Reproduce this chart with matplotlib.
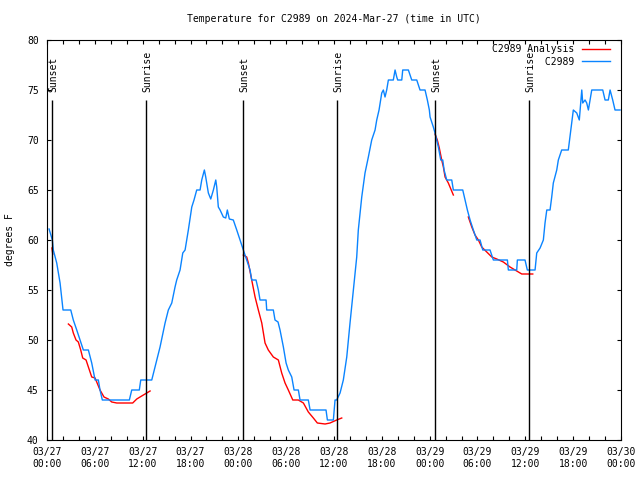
import numpy as np
import matplotlib.pyplot as plt
from matplotlib.ticker import MultipleLocator

plt.rcParams['font.family'] = ['DejaVu Sans Mono']
plt.rcParams['font.size'] = 7

# hours since 2024-03-27 00:00 UTC
obs_hours = [0.26, 0.67, 0.79, 1.22, 1.64, 1.97, 2.01, 2.98, 3.30, 3.73, 4.14, 4.56, 5.19, 5.61,
             6.03, 6.44, 6.65, 6.94, 10.33, 10.63, 11.58, 11.76, 13.14, 13.55, 14.18, 14.81,
             15.22, 15.65, 16.06, 16.27, 16.69, 17.03, 17.32, 17.73, 18.16, 18.44, 18.78, 19.20,
             19.41, 19.74, 19.91, 20.24, 20.54, 20.87, 21.17, 21.29, 21.49, 21.71, 22.12, 22.42,
             22.62, 22.87, 23.37, 23.80, 24.21, 24.63, 25.05, 25.47, 25.68, 26.22, 26.51, 26.72,
             27.48, 27.56, 28.39, 28.60, 28.98, 29.23, 29.65, 29.99, 30.27, 30.70, 30.99, 31.53,
             31.74, 32.78, 33.00, 35.00, 35.17, 35.92, 36.13, 36.34, 36.76, 37.17, 37.60, 38.01,
             38.43, 38.85, 39.05, 39.48, 39.89, 40.31, 40.73, 41.15, 41.36, 41.65, 41.99, 42.19,
             42.40, 42.61, 42.82, 43.44, 43.66, 43.87, 43.99, 44.50, 44.62, 45.33, 45.75, 46.38,
             46.79, 47.42, 47.71, 47.96, 48.05, 48.46, 48.67, 49.09, 49.39, 49.64, 49.81, 50.14,
             50.77, 50.97, 52.15, 52.44, 52.73, 53.07, 53.48, 53.91, 54.32, 54.66, 55.57, 55.99,
             57.75, 57.87, 58.92, 59.00, 59.96, 60.25, 61.22, 61.43, 61.85, 62.26, 62.47, 62.69,
             63.10, 63.31, 63.51, 63.94, 64.14, 64.56, 65.39, 65.82, 66.02, 66.45, 66.77, 67.08,
             67.20, 67.49, 67.70, 67.91, 68.12, 68.33, 69.71, 70.00, 70.41, 70.63, 70.96, 71.25,
             71.88]
obs_temp = [61.1, 60, 59, 57.7, 55.7, 53.3, 53, 53, 52, 51, 50, 49, 49, 47.7,
            46, 46, 45, 44, 44, 45, 45, 46, 46, 47.3, 49.3, 51.7,
            53, 53.7, 55.3, 56, 57, 58.7, 59, 61, 63.3, 64, 65, 65,
            66, 67, 66.3, 64.7, 64.1, 65, 66, 65.3, 63.3, 63, 62.3, 62.2,
            63, 62.1, 62, 61, 60, 59, 58, 57, 56, 56, 55, 54,
            54, 53, 53, 52, 51.8, 51, 49.3, 47.7, 47, 46.3, 45, 45,
            44, 44, 43, 43, 42, 42, 44, 44, 44.7, 46, 48.3, 51.7,
            55, 58.3, 61, 64.3, 66.7, 68.3, 70, 71, 72, 73, 74.7, 75,
            74.3, 75, 76, 76, 77, 76.3, 76, 76, 77, 77, 76, 76,
            75, 75, 74, 73, 72.3, 71.3, 70.7, 69.3, 68, 68, 67, 66,
            66, 65, 65, 64, 63, 62, 61, 60, 60, 59, 59, 58,
            58, 57, 57, 58, 58, 57, 57, 58.7, 59.2, 60, 61.7, 63,
            63, 64.3, 65.7, 67, 68, 69, 69, 71.7, 73, 72.7, 72, 75,
            73.7, 74, 73.7, 73, 74, 75, 75, 74, 74, 75, 74, 73,
            73]

# analysis segments (gaps between them)
ana_hours = [
    [0.62, 0.72],
    [2.68, 3.10, 3.30, 3.64, 3.93, 4.23, 4.48, 4.90, 5.19, 5.61, 6.03, 6.65, 7.15, 7.69, 8.12,
     8.75, 10.42, 10.75, 11.26, 11.67, 12.30, 12.93],
    [24.63, 25.05, 25.26, 25.68, 26.10, 26.51, 26.94, 27.35, 27.76, 28.39, 29.02, 29.44, 29.86,
     30.27, 30.83, 31.53, 32.16, 32.78, 33.41, 33.91, 34.88, 35.50, 36.34, 36.97],
    [48.67, 48.96, 49.21, 49.51, 49.72, 49.93, 50.34, 50.97],
    [52.85, 53.28, 53.69, 54.11, 54.53, 55.16, 55.79, 56.41, 57.24, 58.08, 58.92, 59.55, 60.93],
]
ana_temp = [
    [59.2, 58.6],
    [51.6, 51.3, 50.7, 50, 49.8, 49, 48.2, 48, 47.3, 46.3, 46.2, 45, 44.3, 44.1, 43.8,
     43.7, 43.7, 43.7, 44.1, 44.3, 44.6, 44.9],
    [58.5, 58.3, 57.7, 56, 54.3, 53, 51.7, 49.7, 49, 48.3, 48, 46.7, 45.7,
     45, 44, 44, 43.7, 42.8, 42.2, 41.7, 41.6, 41.7, 42, 42.2],
    [70.6, 70, 69.2, 68, 67.3, 66.3, 65.7, 64.5],
    [62.3, 61.3, 60.5, 60, 59.3, 58.8, 58.3, 58.1, 57.8, 57.3, 56.9, 56.6, 56.6],
]

sun_hours = [0.66, 12.46, 24.63, 36.42, 48.72, 60.51]
sun_names = ["Sunset", "Sunrise", "Sunset", "Sunrise", "Sunset", "Sunrise"]

tick_hours = list(range(0, 73, 6))
tick_labels = ["03/27\n00:00", "03/27\n06:00", "03/27\n12:00", "03/27\n18:00",
               "03/28\n00:00", "03/28\n06:00", "03/28\n12:00", "03/28\n18:00",
               "03/29\n00:00", "03/29\n06:00", "03/29\n12:00", "03/29\n18:00",
               "03/30\n00:00"]

ana_label = "C2989 Analysis"
obs_label = "C2989"

fig = plt.figure(figsize=(6.4, 4.8), dpi=100)
ax = fig.add_axes([47 / 640, 1 - 440 / 480, 574 / 640, 400 / 480])

for i, (h, t) in enumerate(zip(ana_hours, ana_temp)):
    ax.plot(h, t, color='#ff0000', lw=1.0, label=ana_label if i == 0 else None)
ax.plot(obs_hours, obs_temp, color='#0a84ff', lw=1.0,
        label=obs_label.rjust(len(ana_label)))  # monospace: right-justify like gnuplot key

ax.vlines(sun_hours, 40, 74, color='black', lw=1.0)
for h, name in zip(sun_hours, sun_names):
    ax.text(h + 0.12, 74.8, name, rotation=90, ha='center', va='bottom')

ax.set_xlim(0, 72)
ax.set_ylim(40, 80)
ax.set_xticks(tick_hours)
ax.set_xticklabels(tick_labels)
ax.xaxis.set_minor_locator(MultipleLocator(2))
ax.yaxis.set_major_locator(MultipleLocator(5))
ax.tick_params(which='both', direction='in', top=True, right=True, length=3, width=0.8)
ax.tick_params(axis='x', pad=5)
ax.tick_params(axis='y', pad=6)
fig.text(10 / 640, 0.5, "degrees F", rotation=90, ha='center', va='center')
ax.set_title("Temperature for C2989 on 2024-Mar-27 (time in UTC)", fontsize=7, pad=13)

ax.legend(loc='upper right', bbox_to_anchor=(0.985, 0.995), frameon=False,
          markerfirst=False, handlelength=2.9, handletextpad=0.8,
          labelspacing=0.3, borderaxespad=0.0, borderpad=0.2)

plt.savefig("out.png", dpi=100)
